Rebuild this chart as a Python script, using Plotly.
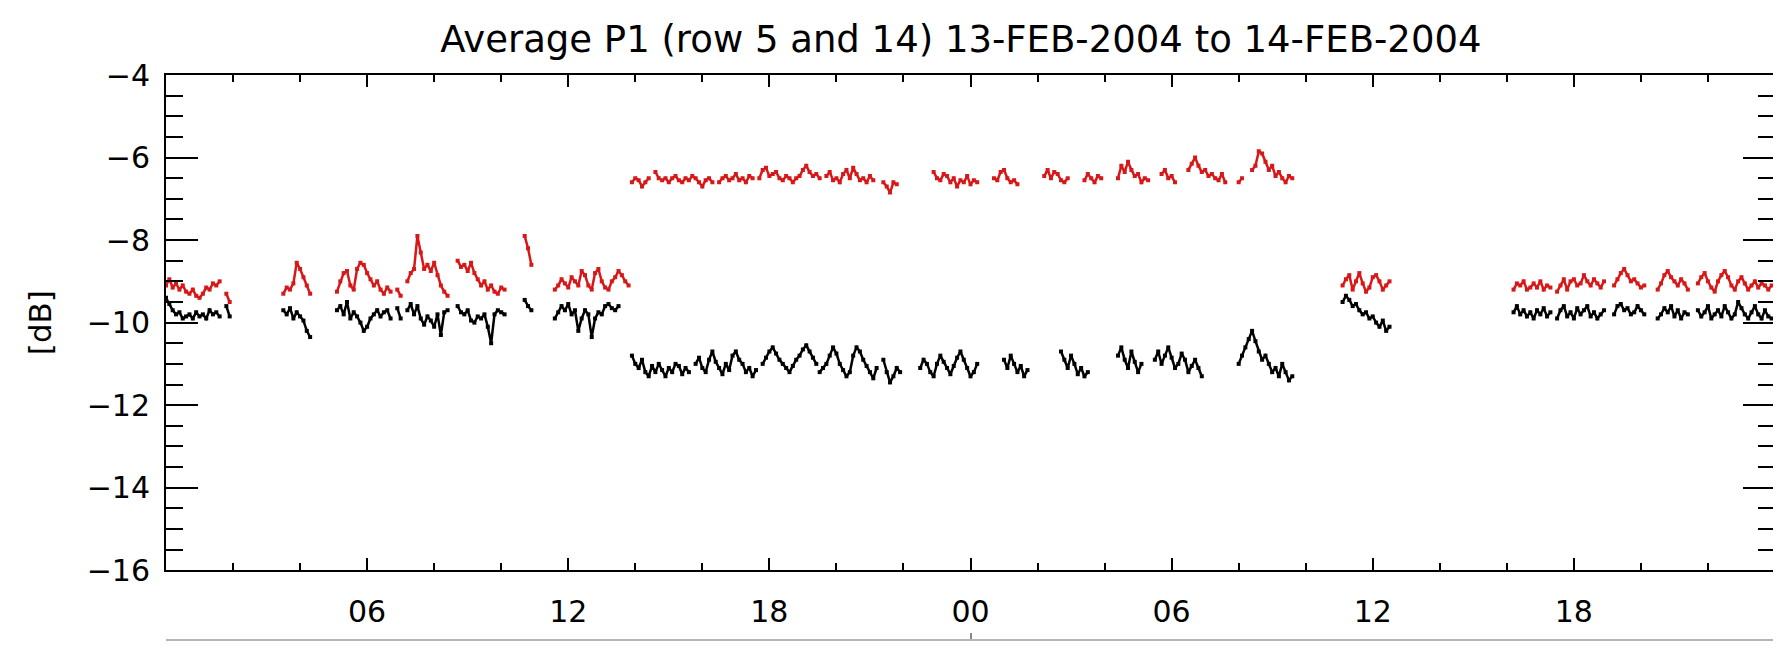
import plotly.graph_objects as go

# ---------------- data (hours since 13-FEB-2004 00:00, dB) ----------------
SAMPLE_STEP_H = 0.1  # sampling interval of the averaged samples, hours

# each entry: (start hour, consecutive samples)
red_segments = [
    (0.0, [-9.1, -8.95, -9.15, -9.05, -9.2, -9.1, -9.25, -9.3, -9.2, -9.35, -9.4, -9.3, -9.15,
           -9.2, -9.05, -9.1, -9.0]),
    (1.8, [-9.3, -9.5]),
    (3.5, [-9.3, -9.15, -9.2, -9.05, -8.55, -8.7, -8.9, -9.1, -9.3]),
    (5.1, [-9.25, -9.0, -8.8, -8.75, -9.1, -9.2, -8.7, -8.55, -8.6, -8.8, -8.95, -9.1, -9.0,
           -9.2, -9.3, -9.15, -9.25]),
    (6.9, [-9.2, -9.35]),
    (7.2, [-9.0, -8.8, -8.7, -7.9, -8.3, -8.7, -8.6, -8.75, -8.55, -8.85, -9.1, -9.25, -9.35]),
    (8.7, [-8.5, -8.65, -8.6, -8.75, -8.55, -8.8, -8.95, -9.1, -9.0, -9.2, -9.1, -9.25, -9.3,
           -9.15, -9.2]),
    (10.7, [-7.9, -8.2, -8.6]),
    (11.6, [-9.2, -9.1, -8.95, -9.05, -9.15, -8.9, -9.0, -9.1, -8.75, -8.85, -9.1, -9.2, -8.8,
            -8.7, -9.0, -9.15, -9.2, -9.0, -8.9, -8.75, -8.85, -9.0, -9.1]),
    (13.9, [-6.6, -6.5, -6.55, -6.7, -6.6, -6.5]),
    (14.6, [-6.35, -6.5]),
    (14.8, [-6.55, -6.5, -6.6, -6.5, -6.45, -6.55, -6.6, -6.5, -6.55, -6.45, -6.5, -6.6, -6.7,
            -6.55, -6.5, -6.6]),
    (16.5, [-6.6, -6.5, -6.45, -6.55, -6.5, -6.4, -6.55, -6.5, -6.6, -6.45, -6.5]),
    (17.7, [-6.5, -6.3, -6.25, -6.45, -6.4, -6.35, -6.5, -6.55, -6.45, -6.5, -6.6, -6.5, -6.45,
            -6.3, -6.2, -6.35, -6.45, -6.4, -6.5]),
    (19.7, [-6.45, -6.35, -6.55, -6.5, -6.6, -6.4, -6.3, -6.5, -6.25, -6.4, -6.55, -6.5, -6.6,
            -6.45, -6.55]),
    (21.4, [-6.6, -6.7, -6.85, -6.6, -6.65]),
    (22.9, [-6.35, -6.5, -6.55, -6.4, -6.45, -6.6, -6.5, -6.7, -6.55, -6.6, -6.45, -6.65, -6.55,
            -6.6]),
    (24.7, [-6.5, -6.55, -6.35, -6.3, -6.5, -6.6, -6.55, -6.65]),
    (26.2, [-6.45, -6.3, -6.5, -6.35, -6.4, -6.55, -6.6, -6.5]),
    (27.4, [-6.55, -6.4, -6.5, -6.6, -6.45, -6.5]),
    (28.4, [-6.5, -6.2, -6.35, -6.1, -6.3, -6.45, -6.4, -6.6, -6.5, -6.55]),
    (29.7, [-6.4, -6.3, -6.5, -6.45, -6.6]),
    (30.5, [-6.3, -6.15, -6.0, -6.2, -6.35, -6.3, -6.45, -6.4, -6.5, -6.55, -6.4, -6.6]),
    (32.0, [-6.6, -6.5]),
    (32.4, [-6.3, -6.2, -5.85, -5.9, -6.1, -6.3, -6.2, -6.45, -6.35, -6.5, -6.6, -6.45, -6.5]),
    (35.1, [-9.1, -8.95, -8.85, -9.2, -9.0, -8.8, -9.05, -9.25, -9.15, -8.9, -8.85, -9.0, -9.2,
            -9.1, -9.0]),
    (40.2, [-9.2, -9.05, -9.1, -9.0, -9.2, -9.15, -9.05, -9.15, -9.0, -9.2, -9.1, -9.15]),
    (41.5, [-9.25, -9.1, -8.95, -9.2, -9.0, -8.95, -9.1, -9.05, -8.85, -9.0, -9.1, -8.95, -9.05,
            -9.15, -9.0]),
    (43.2, [-9.1, -8.95, -8.8, -8.7, -8.85, -9.0, -8.95, -9.05, -9.15, -9.1]),
    (44.5, [-9.2, -9.05, -8.85, -8.75, -8.9, -9.0, -9.1, -8.95, -9.05, -9.2]),
    (45.7, [-9.05, -8.9, -8.8, -9.0, -9.15, -9.25, -9.0, -8.85, -8.75, -8.9, -9.1, -9.2, -9.0,
            -8.9, -9.05, -9.2, -9.1, -9.0, -9.15, -9.05, -9.1, -9.2, -9.1]),
]

black_segments = [
    (0.0, [-9.4, -9.55, -9.7, -9.8, -9.75, -9.9, -9.85, -9.8, -9.9, -9.75, -9.85, -9.8, -9.9,
           -9.7, -9.8, -9.75, -9.85]),
    (1.8, [-9.6, -9.85]),
    (3.5, [-9.7, -9.8, -9.65, -9.9, -9.75, -9.85, -9.95, -10.2, -10.35]),
    (5.1, [-9.7, -9.6, -9.8, -9.5, -9.9, -9.75, -9.85, -10.0, -10.2, -10.1, -9.9, -9.8, -9.7,
           -9.85, -9.75, -9.7, -9.9]),
    (6.9, [-9.65, -9.9]),
    (7.2, [-9.7, -9.55, -9.8, -9.6, -9.9, -10.05, -9.85, -9.95, -10.1, -9.8, -10.3, -9.75, -9.7]),
    (8.7, [-9.6, -9.75, -9.8, -9.7, -9.95, -10.0, -9.85, -9.9, -9.8, -10.1, -10.5, -9.8, -9.7,
           -9.75, -9.8]),
    (10.7, [-9.45, -9.6, -9.7]),
    (11.6, [-9.9, -9.75, -9.6, -9.7, -9.55, -9.8, -9.7, -10.2, -9.9, -9.7, -9.8, -10.35, -9.9,
            -9.75, -9.8, -9.6, -9.55, -9.65, -9.7, -9.6]),
    (13.9, [-10.8, -11.0, -11.1, -10.9, -11.2, -11.3, -11.05, -11.2, -11.0, -11.15, -11.3, -11.1,
            -11.2, -11.0, -11.05, -11.25, -11.1, -11.2]),
    (15.8, [-11.0, -10.85, -11.1, -11.2, -10.9, -10.7, -10.95, -11.1, -11.25, -11.0, -11.15,
            -10.8, -10.7, -10.9, -11.0, -11.2, -11.1, -11.3, -11.15]),
    (17.8, [-11.0, -10.85, -10.7, -10.6, -10.75, -10.9, -11.0, -11.1, -11.2, -11.05, -10.9,
            -10.8, -10.65, -10.55, -10.7, -10.85, -11.0]),
    (19.5, [-11.2, -11.1, -11.0, -10.8, -10.6, -10.75, -11.0, -11.15, -11.3, -11.2, -10.8,
            -10.6, -10.7, -10.9, -11.05, -11.2, -11.35, -11.1]),
    (21.4, [-10.9, -11.2, -11.45, -11.3, -11.1, -11.2]),
    (22.5, [-11.1, -10.9, -11.0, -11.2, -11.3, -11.0, -10.8, -10.95, -11.1, -11.25, -11.05,
            -10.85, -10.7, -10.9, -11.1, -11.3, -11.2, -11.0]),
    (25.0, [-10.9, -11.1, -10.8, -11.0, -11.2, -11.05, -11.3, -11.15]),
    (26.7, [-10.7, -10.9, -11.1, -10.8, -11.0, -11.25, -11.1, -11.3, -11.2]),
    (28.4, [-10.8, -10.6, -10.9, -11.1, -10.7, -10.95, -11.2, -11.0]),
    (29.5, [-10.9, -10.7, -11.0, -10.8, -10.6, -10.85, -11.1, -11.0, -10.75, -10.9, -11.2,
            -11.05, -10.9, -11.1, -11.3]),
    (32.0, [-11.0, -10.8, -10.6, -10.4, -10.2, -10.45, -10.7, -10.9, -10.8, -11.0, -11.2, -11.1,
            -11.3, -11.0, -11.2, -11.4, -11.3]),
    (35.1, [-9.5, -9.35, -9.45, -9.6, -9.55, -9.7, -9.8, -9.75, -9.9, -9.85, -10.0, -10.1, -9.95,
            -10.2, -10.1]),
    (40.2, [-9.75, -9.6, -9.8, -9.7, -9.85, -9.75, -9.9, -9.7, -9.8, -9.65, -9.85, -9.75]),
    (41.5, [-9.9, -9.7, -9.6, -9.85, -9.75, -9.9, -9.65, -9.8, -9.7, -9.6, -9.85, -9.75, -9.9,
            -9.8, -9.7]),
    (43.2, [-9.8, -9.6, -9.55, -9.7, -9.65, -9.8, -9.75, -9.6, -9.7, -9.8]),
    (44.5, [-9.9, -9.8, -9.65, -9.75, -9.6, -9.85, -9.7, -9.9, -9.75, -9.8]),
    (45.7, [-9.7, -9.85, -9.75, -9.6, -9.9, -9.8, -9.7, -9.85, -9.6, -9.75, -9.9, -9.8, -9.5,
            -9.65, -9.8, -9.9, -9.75, -9.6, -9.8, -9.9, -9.7, -9.85, -9.9]),
]

x_tick_hours = [6, 12, 18, 24, 30, 36, 42]
x_tick_labels = ["06", "12", "18", "00", "06", "12", "18"]
TITLE = "Average P1 (row 5 and 14) 13-FEB-2004 to 14-FEB-2004"


def flatten(segments):
    xs, ys = [], []
    for start, vals in segments:
        for i, v in enumerate(vals):
            xs.append(round(start + i * SAMPLE_STEP_H, 3))
            ys.append(v)
        xs.append(None)
        ys.append(None)
    return xs, ys


rx, ry = flatten(red_segments)
bx, by = flatten(black_segments)

FONT = "DejaVu Sans"
RED = "#d81818"
fig = go.Figure()
fig.add_trace(go.Scatter(x=bx, y=by, mode="lines+markers", name="row 14",
                         line=dict(color="black", width=2.5),
                         marker=dict(color="black", size=4, symbol="square"),
                         connectgaps=False, showlegend=False))
fig.add_trace(go.Scatter(x=rx, y=ry, mode="lines+markers", name="row 5",
                         line=dict(color=RED, width=2.5),
                         marker=dict(color=RED, size=4, symbol="square"),
                         connectgaps=False, showlegend=False))
# empty helper trace on the lower (cut-off) axis
fig.add_trace(go.Scatter(x=[None], y=[None], xaxis="x2", yaxis="y", showlegend=False,
                         hoverinfo="skip"))

fig.update_layout(
    width=1781, height=652,
    margin=dict(l=158, r=14, t=67, b=2),
    paper_bgcolor="white", plot_bgcolor="white",
    font=dict(family=FONT, color="black", size=30),
    title=dict(text=TITLE, x=0.535, xanchor="center", y=0.952, yanchor="middle",
               font=dict(family=FONT, size=37, color="black")),
    xaxis=dict(range=[0, 48], domain=[0, 1], anchor="y",
               tickmode="array", tickvals=x_tick_hours, ticktext=x_tick_labels,
               ticks="inside", ticklen=12, tickwidth=2, tickcolor="black",
               minor=dict(tickmode="linear", tick0=0, dtick=2, ticks="inside",
                          ticklen=7, tickwidth=2, tickcolor="black"),
               showline=True, linewidth=2, linecolor="black", mirror="ticks",
               showgrid=False, zeroline=False, ticklabelstandoff=14,
               tickfont=dict(size=30)),
    xaxis2=dict(range=[0, 48], overlaying="x", anchor="free", position=0,
                tickmode="array", tickvals=[24], ticks="inside", ticklen=6,
                tickwidth=2, tickcolor="#888888", showticklabels=False,
                showline=True, linewidth=2, linecolor="#b5b5b5",
                showgrid=False, zeroline=False),
    yaxis=dict(range=[-16, -4], domain=[0.1235, 1],
               tickmode="linear", tick0=-16, dtick=2,
               ticks="inside", ticklen=32, tickwidth=2, tickcolor="black",
               minor=dict(tickmode="linear", tick0=-16, dtick=0.5, ticks="inside",
                          ticklen=17, tickwidth=2, tickcolor="black"),
               showline=True, linewidth=2, linecolor="black", mirror="ticks",
               showgrid=False, zeroline=False, ticklabelstandoff=8,
               tickfont=dict(size=30),
               title=dict(text="[dB]", standoff=26, font=dict(size=31))),
)

fig.write_html("out.html")
